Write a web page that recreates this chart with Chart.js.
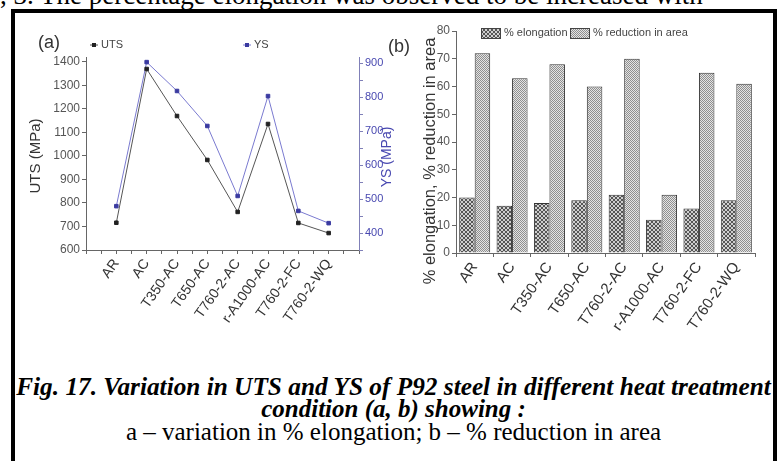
<!DOCTYPE html>
<html><head><meta charset="utf-8">
<script src="https://cdn.jsdelivr.net/npm/chart.js@4.4.0/dist/chart.umd.min.js"></script>
<style>
html,body{margin:0;padding:0;background:#fff;width:781px;height:461px;overflow:hidden;position:relative;}
#topline{position:absolute;left:0;top:-18px;font:27px/27px "Liberation Serif","Times New Roman",serif;white-space:nowrap;color:#000;}
#frame{position:absolute;left:11px;top:9px;width:766px;height:470px;border:4px solid #000;box-sizing:border-box;}
#ca{position:absolute;left:16px;top:14px;}
#cb{position:absolute;left:380px;top:14px;}
.cap{position:absolute;left:3px;width:781px;text-align:center;font-family:"Liberation Serif","Times New Roman",serif;color:#000;white-space:nowrap;font-size:25px;line-height:23px;}
.bi{font-weight:bold;font-style:italic;}
</style></head>
<body>
<div id="topline">, 3. The percentage elongation was observed to be increased with</div>
<div id="frame"></div>
<canvas id="ca" width="384" height="340"></canvas>
<canvas id="cb" width="394" height="340"></canvas>
<div class="cap bi" style="top:375px;font-size:25.3px">Fig. 17. Variation in UTS and YS of P92 steel in different heat treatment</div>
<div class="cap bi" style="top:397px">condition (a, b) showing :</div>
<div class="cap" style="top:420px">a – variation in % elongation; b – % reduction in area</div>
<script>
const categories = ['AR','AC','T350-AC','T650-AC','T760-2-AC','r-A1000-AC','T760-2-FC','T760-2-WQ'];
const utsValues = [716, 1370, 1170, 983, 762, 1136, 715, 672];
const ysValues = [479, 903, 818, 715, 509, 803, 465, 429];
const elongationValues = [20, 17, 18, 19, 21, 12, 16, 19];
const reductionValues = [72, 63, 68, 60, 70, 21, 65, 61];

Chart.defaults.font.family = '"Liberation Sans", Arial, sans-serif';
Chart.defaults.color = '#444';
Chart.defaults.animation = false;

const axisGrey = '#666';
const ysBlue = '#4848b0';

// ---------- Chart (a) ----------
const decorA = {
  id: 'decorA',
  afterDraw(chart) {
    const ctx = chart.ctx;
    ctx.save();
    ctx.textBaseline = 'middle';
    ctx.fillStyle = '#333';
    ctx.font = '18px "Liberation Sans", Arial, sans-serif';
    ctx.textAlign = 'center';
    ctx.fillText('(a)', 33, 29);
    ctx.font = '15px "Liberation Sans", Arial, sans-serif';
    ctx.translate(20, 142); ctx.rotate(-Math.PI/2);
    ctx.fillText('UTS (MPa)', 0, 0);
    ctx.setTransform(1,0,0,1,0,0);
    ctx.fillStyle = ysBlue;
    ctx.font = '14px "Liberation Sans", Arial, sans-serif';
    ctx.translate(371, 143); ctx.rotate(-Math.PI/2);
    ctx.fillText('YS (MPa)', 0, 0);
    ctx.setTransform(1,0,0,1,0,0);
    const items = [[78, 31], [231, 31]];
    chart.data.datasets.forEach((ds, i) => {
      const [x, y] = items[i];
      ctx.strokeStyle = ds.borderColor; ctx.lineWidth = 1;
      ctx.beginPath(); ctx.moveTo(x-4, y); ctx.lineTo(x+4, y); ctx.stroke();
      ctx.fillStyle = ds.pointBackgroundColor;
      ctx.fillRect(x-2, y-2, 4, 4);
      ctx.fillStyle = '#444';
      ctx.font = '11px "Liberation Sans", Arial, sans-serif';
      ctx.textAlign = 'left';
      ctx.fillText(ds.label, x+7, y);
    });
    ctx.restore();
  }
};

new Chart(document.getElementById('ca'), {
  type: 'line',
  data: {
    datasets: [
      { label: 'UTS', yAxisID: 'yL',
        data: categories.map((c, i) => ({x: i, y: utsValues[i]})),
        borderColor: '#555', borderWidth: 1, pointStyle: 'rect', pointRadius: 2.5,
        pointBackgroundColor: '#222', pointBorderColor: '#222', tension: 0 },
      { label: 'YS', yAxisID: 'yR',
        data: categories.map((c, i) => ({x: i, y: ysValues[i]})),
        borderColor: '#7a7ad0', borderWidth: 1, pointStyle: 'rect', pointRadius: 2.5,
        pointBackgroundColor: '#3a3aa0', pointBorderColor: '#3a3aa0', tension: 0 }
    ]
  },
  options: {
    responsive: false, devicePixelRatio: 1,
    layout: { padding: { top: 43, left: 0, right: 0, bottom: 0 } },
    plugins: { legend: { display: false }, tooltip: { enabled: false } },
    scales: {
      x: { type: 'linear', min: -1, max: 8,
        ticks: { stepSize: 0.5, autoSkip: false, maxRotation: 55, minRotation: 55, padding: 2,
          font: { size: 14 }, color: '#333',
          callback: v => (Number.isInteger(v) && v >= 0 && v < categories.length) ? categories[v] : '' },
        grid: { drawOnChartArea: false, tickLength: 4, color: axisGrey },
        border: { color: axisGrey },
        afterFit: s => { s.height = 104; } },
      yL: { position: 'left', min: 600, max: 1421,
        ticks: { stepSize: 50, includeBounds: false, font: { size: 12 }, color: '#555', padding: 2,
          callback: v => v % 100 === 0 ? v : '' },
        grid: { drawOnChartArea: false, tickLength: 4, color: axisGrey },
        border: { color: axisGrey },
        afterFit: s => { s.width = 70; } },
      yR: { position: 'right', min: 350, max: 918,
        ticks: { stepSize: 50, includeBounds: false, font: { size: 11 }, color: ysBlue, padding: 2,
          callback: v => (v % 100 === 0 && v >= 400) ? v : '' },
        grid: { drawOnChartArea: false, tickLength: 4, color: '#8080b8' },
        border: { color: '#8080b8' },
        afterFit: s => { s.width = 41; } }
    }
  },
  plugins: [decorA]
});

// ---------- Chart (b) ----------
const cbCtx = document.getElementById('cb').getContext('2d');
function makePattern(kind) {
  const t = document.createElement('canvas');
  const g = t.getContext('2d');
  if (kind === 'cross') {
    t.width = t.height = 4;
    g.fillStyle = '#cfcfcf'; g.fillRect(0, 0, 4, 4);
    g.fillStyle = '#555';
    for (let i = 0; i < 4; i++) { g.fillRect(i, i, 1, 1); g.fillRect(3 - i, i, 1, 1); }
  } else {
    t.width = t.height = 2;
    g.fillStyle = '#e4e4e4'; g.fillRect(0, 0, 2, 2);
    g.fillStyle = '#8f8f8f'; g.fillRect(0, 0, 1, 1); g.fillRect(1, 1, 1, 1);
  }
  return cbCtx.createPattern(t, 'repeat');
}

const decorB = {
  id: 'decorB',
  afterDraw(chart) {
    const ctx = chart.ctx;
    ctx.save();
    ctx.textBaseline = 'middle';
    ctx.fillStyle = '#333';
    ctx.font = '18px "Liberation Sans", Arial, sans-serif';
    ctx.textAlign = 'center';
    ctx.fillText('(b)', 19, 33);
    ctx.font = '16.5px "Liberation Sans", Arial, sans-serif';
    ctx.translate(50, 147); ctx.rotate(-Math.PI/2);
    ctx.fillText('% elongation, % reduction in area', 0, 0);
    ctx.setTransform(1,0,0,1,0,0);
    const boxes = [101, 190];
    chart.data.datasets.forEach((ds, i) => {
      const x = boxes[i];
      ctx.fillStyle = ds.backgroundColor;
      ctx.fillRect(x, 14, 19, 10);
      ctx.strokeStyle = '#444'; ctx.lineWidth = 1;
      ctx.strokeRect(x + 0.5, 14.5, 19, 10);
      ctx.fillStyle = '#444';
      ctx.font = '11px "Liberation Sans", Arial, sans-serif';
      ctx.textAlign = 'left';
      ctx.fillText(ds.label, x + 23, 19);
    });
    ctx.restore();
  }
};

new Chart(cbCtx, {
  type: 'bar',
  data: {
    labels: categories,
    datasets: [
      { label: '% elongation', data: elongationValues, backgroundColor: makePattern('cross'),
        borderColor: '#333', borderWidth: 1, categoryPercentage: 0.83, barPercentage: 1 },
      { label: '% reduction in area', data: reductionValues, backgroundColor: makePattern('dots'),
        borderColor: '#333', borderWidth: 1, categoryPercentage: 0.83, barPercentage: 1 }
    ]
  },
  options: {
    responsive: false, devicePixelRatio: 1,
    layout: { padding: { top: 17, right: 19, left: 0, bottom: 0 } },
    plugins: { legend: { display: false }, tooltip: { enabled: false } },
    scales: {
      x: { ticks: { autoSkip: false, maxRotation: 55, minRotation: 55, padding: 2, font: { size: 15 }, color: '#333' },
        grid: { drawOnChartArea: false, tickLength: 4, color: axisGrey },
        border: { color: axisGrey },
        afterFit: s => { s.height = 101; } },
      y: { min: 0, max: 80,
        ticks: { stepSize: 5, font: { size: 12 }, color: '#555', padding: 2,
          callback: v => v % 10 === 0 ? v : '' },
        grid: { drawOnChartArea: false, tickLength: 4, color: axisGrey },
        border: { color: axisGrey },
        afterFit: s => { s.width = 76; } }
    }
  },
  plugins: [decorB]
});
</script>
</body></html>
